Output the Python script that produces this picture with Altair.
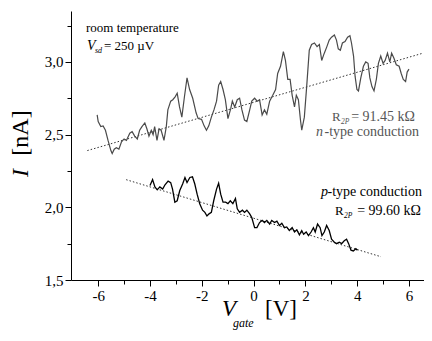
import altair as alt
import pandas as pd

# n-type trace (grey)
n_x = [-6.04, -6.00, -5.90, -5.81, -5.72, -5.62, -5.51, -5.46, -5.38, -5.30, -5.20, -5.10, -5.00, -4.91,
       -4.78, -4.69, -4.59, -4.49, -4.40, -4.31, -4.20, -4.12, -4.04, -3.95, -3.88, -3.82, -3.73, -3.65,
       -3.57, -3.46, -3.37, -3.31, -3.20, -3.12, -3.03, -2.95, -2.86, -2.77, -2.67, -2.57, -2.47, -2.35,
       -2.22, -2.14, -2.01, -1.91, -1.82, -1.73, -1.63, -1.53, -1.43, -1.35, -1.27, -1.18, -1.09, -0.99,
       -0.88, -0.82, -0.73, -0.63, -0.54, -0.45, -0.35, -0.26, -0.15, -0.07, 0.04, 0.14, 0.23, 0.33,
       0.42, 0.51, 0.62, 0.74, 0.85, 0.93, 1.04, 1.15, 1.23, 1.32, 1.41, 1.49, 1.58, 1.65, 1.73, 1.81,
       1.86, 1.96, 2.05, 2.15, 2.24, 2.35, 2.45, 2.54, 2.63, 2.73, 2.83, 2.92, 3.01, 3.12, 3.20, 3.27,
       3.35, 3.43, 3.53, 3.63, 3.72, 3.78, 3.86, 3.92, 3.99, 4.05, 4.14, 4.24, 4.33, 4.42, 4.49, 4.57,
       4.65, 4.74, 4.82, 4.91, 5.00, 5.08, 5.17, 5.26, 5.33, 5.42, 5.51, 5.62, 5.70, 5.78, 5.87, 5.93, 6.00]
n_y = [2.635, 2.59, 2.555, 2.56, 2.53, 2.46, 2.39, 2.37, 2.40, 2.41, 2.40, 2.45, 2.47, 2.46,
       2.51, 2.52, 2.49, 2.47, 2.53, 2.555, 2.58, 2.54, 2.49, 2.53, 2.50, 2.555, 2.46, 2.54,
       2.53, 2.46, 2.555, 2.67, 2.73, 2.74, 2.76, 2.785, 2.69, 2.62, 2.76, 2.89, 2.81, 2.75,
       2.65, 2.61, 2.605, 2.56, 2.53, 2.56, 2.62, 2.67, 2.73, 2.84, 2.865, 2.81, 2.74, 2.61,
       2.68, 2.73, 2.69, 2.74, 2.75, 2.67, 2.60, 2.59, 2.67, 2.73, 2.75, 2.73, 2.74, 2.635,
       2.67, 2.64, 2.73, 2.77, 2.81, 2.92, 2.97, 3.07, 3.01, 2.88, 2.88, 2.77, 2.69, 2.77, 2.74, 2.60,
       2.53, 2.62, 2.83, 3.08, 3.12, 3.13, 3.105, 3.12, 3.01, 3.06, 3.105, 3.15, 3.17, 3.185, 3.15, 3.09,
       3.08, 3.13, 3.14, 3.17, 3.18, 3.13, 3.04, 2.90, 2.81, 2.80, 2.89, 2.97, 3.00, 2.99, 2.89, 2.83,
       2.80, 2.88, 2.99, 3.04, 2.99, 3.01, 3.06, 3.00, 3.06, 3.025, 2.98, 2.97, 2.92, 2.88, 2.865, 2.93, 2.95]

# p-type trace (black)
p_x = [-4.00, -3.90, -3.81, -3.72, -3.62, -3.51, -3.42, -3.30, -3.20, -3.13, -3.04, -2.95, -2.85, -2.74,
       -2.65, -2.57, -2.46, -2.36, -2.27, -2.18, -2.08, -1.97, -1.88, -1.80, -1.72, -1.63, -1.54, -1.43,
       -1.35, -1.27, -1.18, -1.08, -0.99, -0.90, -0.80, -0.70, -0.63, -0.54, -0.43, -0.35, -0.26, -0.15,
       -0.07, 0.04, 0.13, 0.23, 0.33, 0.42, 0.51, 0.62, 0.70, 0.81, 0.90, 1.00, 1.09, 1.19, 1.28, 1.38,
       1.49, 1.58, 1.67, 1.77, 1.86, 1.93, 2.03, 2.12, 2.22, 2.31, 2.38, 2.47, 2.57, 2.64, 2.73, 2.82,
       2.92, 3.01, 3.12, 3.20, 3.31, 3.40, 3.50, 3.59, 3.67, 3.76, 3.85, 3.95, 4.01]
p_y = [2.15, 2.19, 2.14, 2.12, 2.14, 2.125, 2.155, 2.18, 2.17, 2.125, 2.035, 2.045, 2.115, 2.16,
       2.205, 2.17, 2.205, 2.21, 2.16, 2.09, 2.025, 1.98, 1.965, 1.94, 1.955, 1.965, 2.045, 2.125,
       2.165, 2.09, 2.035, 2.035, 2.025, 2.045, 2.025, 2.06, 1.99, 1.965, 1.98, 1.965, 1.98, 1.955,
       1.93, 1.86, 1.86, 1.895, 1.91, 1.895, 1.91, 1.885, 1.91, 1.895, 1.905, 1.875, 1.89, 1.86, 1.865, 1.84,
       1.86, 1.83, 1.845, 1.81, 1.84, 1.815, 1.83, 1.805, 1.83, 1.86, 1.83, 1.885, 1.86, 1.805, 1.83, 1.875,
       1.84, 1.78, 1.76, 1.75, 1.76, 1.75, 1.77, 1.78, 1.75, 1.705, 1.70, 1.715, 1.705]

# linear fits (end points)
n_fit_x = [-6.42, 6.54]
n_fit_y = [2.39, 3.06]
p_fit_x = [-4.92, 4.92]
p_fit_y = [2.19, 1.66]

x_ticks = [-6, -5, -4, -3, -2, -1, 0, 1, 2, 3, 4, 5, 6]
y_ticks = [1.5, 1.75, 2.0, 2.25, 2.5, 2.75, 3.0, 3.25]

SERIF = "Times New Roman, Liberation Serif, DejaVu Serif, serif"
W, H = 353, 269

xs = alt.Scale(domain=[-7.05, 6.58], nice=False, zero=False)
ys = alt.Scale(domain=[1.5, 3.35], nice=False, zero=False)

x_axis = alt.Axis(
    values=x_ticks, title=None, grid=False, domainColor="black", tickColor="black",
    labelExpr="datum.value % 2 === 0 ? '' + datum.value : ''",
    tickSize={"condition": {"test": "datum.value % 2 === 0", "value": 6}, "value": 4},
    labelFont=SERIF, labelFontSize=15, labelColor="black", labelPadding=2, labelFlush=False,
)
y_axis = alt.Axis(
    values=y_ticks, title=None, grid=False, domainColor="black", tickColor="black",
    labelExpr="abs(datum.value*2 - round(datum.value*2)) < 0.01 ? replace(format(datum.value, '.1f'), '.', ',') : ''",
    tickSize={"condition": {"test": "abs(datum.value*2 - round(datum.value*2)) < 0.01", "value": 6}, "value": 4},
    labelFont=SERIF, labelFontSize=15, labelColor="black", labelPadding=2, labelFlush=False,
)

n_df = pd.DataFrame({"x": n_x, "y": n_y})
p_df = pd.DataFrame({"x": p_x, "y": p_y})
nf_df = pd.DataFrame({"x": n_fit_x, "y": n_fit_y})
pf_df = pd.DataFrame({"x": p_fit_x, "y": p_fit_y})

base_enc = dict(x=alt.X("x:Q", scale=xs, axis=x_axis), y=alt.Y("y:Q", scale=ys, axis=y_axis))

n_fit = alt.Chart(nf_df).mark_line(color="#333333", strokeWidth=1, strokeDash=[1.5, 2]).encode(**base_enc)
p_fit = alt.Chart(pf_df).mark_line(color="#333333", strokeWidth=1, strokeDash=[1.5, 2]).encode(**base_enc)
n_line = alt.Chart(n_df).mark_line(color="#4a4a4a", strokeWidth=1.2).encode(**base_enc)
p_line = alt.Chart(p_df).mark_line(color="#000000", strokeWidth=1.3).encode(**base_enc)

one = pd.DataFrame({"a": [0]})


def txt(s, x, y, size, italic=False, color="black", align="left", angle=0, baseline="alphabetic"):
    kw = dict(text=s, fontSize=size, font=SERIF, fontStyle="italic" if italic else "normal",
              align=align, baseline=baseline, color=color)
    if angle:
        kw["angle"] = angle
    return alt.Chart(one).mark_text(**kw).encode(x=alt.value(x), y=alt.value(y))


GREY = "#555555"
texts = [
    txt("room temperature", 15, 21, 13),
    txt("V", 16, 39, 14, italic=True),
    txt("sd", 24, 42, 8, italic=True),
    txt("= 250 \u00b5V", 33, 39, 13),
    txt("R", 261, 110, 13, color=GREY),
    txt("2P", 270, 113, 7.5, italic=True, color=GREY),
    txt("= 91.45 k\u03a9", 344, 110, 14, color=GREY, align="right"),
    txt("n", 245, 125, 14, italic=True, color=GREY),
    txt("-type conduction", 348, 125, 14, color=GREY, align="right"),
    txt("p", 250, 185, 14, italic=True),
    txt("-type conduction", 351, 185, 14, align="right"),
    txt("R", 264, 204, 13),
    txt("2P", 273, 207, 7.5, italic=True),
    txt("= 99.60 k\u03a9", 350, 204, 14, align="right"),
    # axis titles
    txt("I", -43, 162, 24, italic=True, angle=270, align="center"),
    txt("[nA]", -43, 122, 24, angle=270, align="center"),
    txt("V", 151, 305, 23, italic=True),
    txt("gate", 162, 316, 12, italic=True),
    txt("[V]", 194, 305, 23),
]

chart = alt.layer(n_fit, p_fit, n_line, p_line, *texts).properties(
    width=W, height=H,
    autosize="none",
    padding={"left": 63, "top": 3, "right": 0, "bottom": 50},
    background="white",
).configure_view(stroke=None).configure_axis(domainWidth=1, tickWidth=1)

chart.save("out.html", embed_options={"renderer": "svg", "actions": False})
